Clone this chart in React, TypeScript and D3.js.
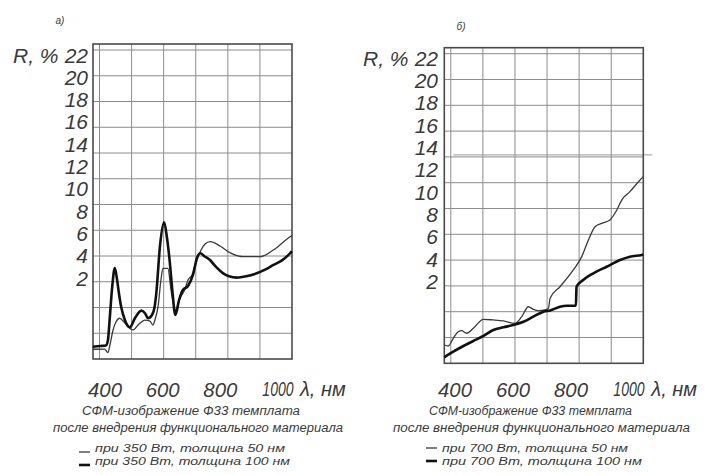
import React from 'react';
import * as d3 from 'd3';

// ---------- data ----------
const yTicks = [2, 4, 6, 8, 10, 12, 14, 16, 18, 20, 22];
const xTicks = [400, 600, 800, 1000];
const xTitle = 'λ, нм';
const yTitle = 'R, %';
const captionLines = ['СФМ-изображение Ф33 темплата', 'после внедрения функционального материала'];
const legendLeft = ['при 350 Вт, толщина 50 нм', 'при 350 Вт, толщина 100 нм'];
const legendRight = ['при 700 Вт, толщина 50 нм', 'при 700 Вт, толщина 100 нм'];
const panelLabels = ['а)', 'б)'];

// panel a: 350 W, 50 nm (thin)
const a350w50: [number, number][] = [
  [358, -4.39], [399, -4.37], [410, -4.7], [417, -4.01], [428, -2.66], [438, -1.95], [451, -1.61],
  [466, -1.95], [480, -2.37], [497, -2.66], [518, -2.13], [538, -1.77], [556, -1.86], [566, -2.22],
  [575, -1.59], [584, -0.57], [594, 1.82], [601, 2.87], [618, 2.87], [629, 0.92], [644, -0.87],
  [660, 0.21], [676, 0.92], [688, 1.82], [702, 2.27], [716, 3.43], [730, 4.33], [747, 5.05],
  [764, 5.26], [799, 4.87], [833, 4.27], [880, 3.91], [938, 3.91], [984, 4.51], [1042, 5.7], [1048, 5.8],
];
// panel a: 350 W, 100 nm (thick)
const a350w100: [number, number][] = [
  [358, -4.16], [385, -4.1], [403, -4.05], [410, -3.6], [416, -1.77], [425, 1.2], [434, 2.9],
  [442, 1.82], [449, 0.5], [456, -0.57], [469, -1.77], [486, -2.42], [504, -1.59], [526, -0.93],
  [540, -1.2], [549, -1.61], [563, -1.32], [572, -0.6], [578, 0.65], [591, 4.96], [605, 7.0],
  [615, 5.59], [624, 3.61], [634, 0.74], [644, -1.32], [657, 0.03], [670, 0.92], [688, 1.28],
  [705, 2.27], [719, 3.79], [730, 4.22], [745, 3.95], [764, 3.61], [785, 3.0], [810, 2.42],
  [830, 2.15], [857, 2.03], [890, 2.15], [926, 2.42], [955, 2.75], [984, 3.17], [1015, 3.6],
  [1042, 4.22], [1048, 4.4],
];
// panel b: 700 W, 50 nm (thin)
const b700w50: [number, number][] = [
  [363, -3.66], [377, -3.75], [394, -3.06], [411, -2.47], [423, -2.38], [440, -2.61], [463, -2.17],
  [498, -1.36], [532, -1.42], [567, -1.51], [607, -1.72], [630, -1.13], [653, -0.24], [670, -0.47],
  [687, -0.59], [710, -0.53], [722, -0.38], [728, 0.52], [762, 1.55], [808, 3.05], [837, 4.24],
  [860, 5.73], [883, 6.92], [906, 7.22], [934, 7.52], [958, 8.41], [975, 9.3], [1003, 10.05],
  [1038, 11.09], [1049, 11.39],
];
// panel b: 700 W, 100 nm (thick)
const b700w100: [number, number][] = [
  [363, -4.76], [394, -4.26], [429, -3.75], [463, -3.3], [498, -2.85], [532, -2.32], [567, -2.08],
  [601, -1.87], [636, -1.58], [670, -1.13], [705, -0.68], [728, -0.57], [762, -0.24], [785, -0.15],
  [817, -0.15], [819, 1.55], [842, 2.15], [877, 2.75], [923, 3.34], [969, 3.94], [1003, 4.24],
  [1044, 4.39], [1049, 4.42],
];

// ---------- layout ----------
const FONT = "'Liberation Sans', 'DejaVu Sans', sans-serif";
const TXT = '#3a3a3a';

type PanelCfg = {
  box: [number, number, number, number]; // x0, x1, y0, y1
  xPix: [number, number]; // pixel of 400 and 1000
  yPix: [number, number]; // pixel of 2 and 22
  rowStep: number;
  tickX: number;
  yTitleX: number;
  labelPos: [number, number];
  label: string;
  thin: [number, number][];
  thick: [number, number][];
  legend: string[];
  cap: { x0: number; x1: number }[];
  legDash: [number, number];
  legText: { x0: number; x1: number }[];
  dashAtBottom: boolean;
  extraLine?: boolean;
};

const panels: PanelCfg[] = [
  {
    box: [93, 292, 44, 359], xPix: [105, 278], yPix: [278, 55], rowStep: 25.75,
    tickX: 88, yTitleX: 13, labelPos: [60, 20], label: panelLabels[0],
    thin: a350w50, thick: a350w100, legend: legendLeft,
    cap: [{ x0: 82, x1: 300 }, { x0: 53, x1: 343 }],
    legDash: [79, 90], legText: [{ x0: 95, x1: 285 }, { x0: 95, x1: 290 }], dashAtBottom: true,
  },
  {
    box: [444.3, 643.3, 47.7, 363.3], xPix: [455, 629], yPix: [281.7, 58], rowStep: 25.8,
    tickX: 438, yTitleX: 363, labelPos: [461, 26], label: panelLabels[1],
    thin: b700w50, thick: b700w100, legend: legendRight,
    cap: [{ x0: 429, x1: 632 }, { x0: 393, x1: 690 }],
    legDash: [426, 437], legText: [{ x0: 442, x1: 628 }, { x0: 442, x1: 642 }], dashAtBottom: false,
    extraLine: true,
  },
];

const capY = [411, 428];
const legY = [448, 461];

function Panel({ p }: { p: PanelCfg }) {
  const [x0, x1, y0, y1] = p.box;
  const x = d3.scaleLinear().domain([400, 1000]).range(p.xPix);
  const y = d3.scaleLinear().domain([2, 22]).range(p.yPix);
  const col = d3.scaleLinear().domain([0, 6]).range([x0 + 6.5, x1]);
  const row = d3.scaleLinear().domain([0, 12]).range([y1, y1 - 12 * p.rowStep]);
  const line = d3.line<[number, number]>().x(d => x(d[0])).y(d => y(d[1])).curve(d3.curveMonotoneX);
  return (
    <g>
      <text x={p.labelPos[0]} y={p.labelPos[1]} fontSize={10} fontStyle="italic" fill={TXT}
        fontFamily={FONT} textAnchor="middle" dominantBaseline="central">{p.label}</text>
      {d3.range(0, 6).map(i => (
        <line key={'c' + i} x1={col(i)} x2={col(i)} y1={y0} y2={y1} stroke="#8c8c8c" strokeWidth={1} />
      ))}
      {d3.range(1, 13).map(i => (
        <line key={'r' + i} x1={x0} x2={x1} y1={row(i)} y2={row(i)} stroke="#8c8c8c" strokeWidth={1} />
      ))}
      {p.extraLine && (
        <line x1={x0 + 9} x2={x1 + 9} y1={row(8) - 2} y2={row(8) - 2} stroke="#999" strokeWidth={1} />
      )}
      <rect x={x0} y={y0} width={x1 - x0} height={y1 - y0} fill="none" stroke="#4a4a4a" strokeWidth={1.6} />
      <path d={line(p.thin) || ''} fill="none" stroke="#3a3a3a" strokeWidth={1.3} />
      <path d={line(p.thick) || ''} fill="none" stroke="#111" strokeWidth={2.6} />
      {yTicks.map(t => (
        <text key={t} x={p.tickX} y={y(t)} fontSize={21} fontStyle="italic" fill={TXT} fontFamily={FONT}
          textAnchor="end" dominantBaseline="central">{t}</text>
      ))}
      <text x={p.yTitleX} y={y(22)} fontSize={21} fontStyle="italic" fill={TXT} fontFamily={FONT}
        dominantBaseline="central">{yTitle}</text>
      {xTicks.map(t => {
        const sx = t >= 1000 ? 0.67 : 0.97;
        return (
          <text key={t} transform={`translate(${x(t)},389) scale(${sx},1)`} fontSize={21} fontStyle="italic"
            fill={TXT} fontFamily={FONT} textAnchor="middle" dominantBaseline="central">{t}</text>
        );
      })}
      <text x={x1 + 8} y={389} fontSize={20} fontStyle="italic" fill={TXT} fontFamily={FONT}
        dominantBaseline="central">{xTitle}</text>
      {captionLines.map((c, i) => (
        <text key={c} x={p.cap[i].x0} y={capY[i]} fontSize={12.5} fontStyle="italic" fill={TXT}
          fontFamily={FONT} dominantBaseline="central" textLength={p.cap[i].x1 - p.cap[i].x0}
          lengthAdjust="spacingAndGlyphs">{c}</text>
      ))}
      {p.legend.map((c, i) => (
        <g key={c}>
          <line x1={p.legDash[0]} x2={p.legDash[1]}
            y1={legY[i] + (p.dashAtBottom ? 4 : 0)} y2={legY[i] + (p.dashAtBottom ? 4 : 0)}
            stroke={i === 0 ? '#3a3a3a' : '#111'} strokeWidth={i === 0 ? 1.3 : 2.6} />
          <text x={p.legText[i].x0} y={legY[i]} fontSize={11} fontStyle="italic" fill={TXT}
            fontFamily={FONT} dominantBaseline="central" textLength={p.legText[i].x1 - p.legText[i].x0}
            lengthAdjust="spacingAndGlyphs">{c}</text>
        </g>
      ))}
    </g>
  );
}

export default function App() {
  return (
    <svg width={706} height={475} viewBox="0 0 706 475"
      style={{ position: 'absolute', left: 0, top: 0, background: '#fff' }}>
      <rect x={0} y={0} width={706} height={475} fill="#fff" />
      {panels.map((p, i) => <Panel key={i} p={p} />)}
    </svg>
  );
}
